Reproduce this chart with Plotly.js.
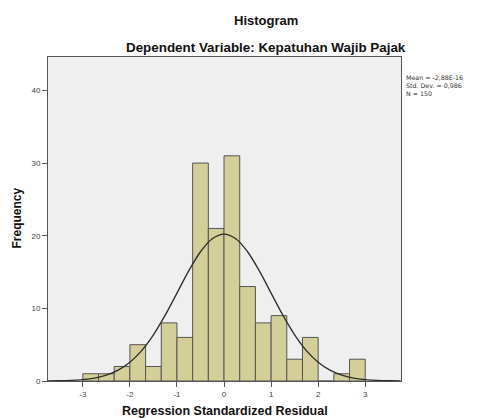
<!DOCTYPE html>
<html>
<head>
<meta charset="utf-8">
<script src="https://cdn.plot.ly/plotly-3.0.1.min.js"></script>
<style>html,body{margin:0;padding:0;background:#fff;}#chart{width:479px;height:418px;}</style>
</head>
<body>
<div id="chart"></div>
<script>
// Histogram bins (lower edges) and frequencies
var binWidth = 1 / 3;
var binLower = [-3, -8/3, -7/3, -2, -5/3, -4/3, -1, -2/3, -1/3, 0, 1/3, 2/3, 1, 4/3, 5/3, 2, 7/3, 8/3];
var frequencies = [1, 1, 2, 5, 2, 8, 6, 30, 21, 31, 13, 8, 9, 3, 6, 0, 1, 3];

// Normal curve
var curveX = [-3.75, -3.5, -3.25, -3, -2.75, -2.5, -2.25, -2, -1.75, -1.5, -1.25, -1, -0.75, -0.5, -0.25, 0, 0.25, 0.5, 0.75, 1, 1.25, 1.5, 1.75, 2, 2.25, 2.5, 2.75, 3, 3.25, 3.5, 3.75];
var curveY = [0.015, 0.037, 0.088, 0.2, 0.41, 0.81, 1.5, 2.59, 4.19, 6.36, 9.06, 12.1, 15.15, 17.79, 19.59, 20.23, 19.59, 17.79, 15.15, 12.1, 9.06, 6.36, 4.19, 2.59, 1.5, 0.81, 0.41, 0.2, 0.088, 0.037, 0.015];

var xTicks = [-3, -2, -1, 0, 1, 2, 3];
var yTicks = [0, 10, 20, 30, 40];
var statsLines = ["Mean = -2,88E-16", "Std. Dev. = 0,986", "N = 150"];
var titleText = "Histogram";
var subtitleText = "Dependent Variable: Kepatuhan Wajib Pajak";
var xTitle = "Regression Standardized Residual";
var yTitle = "Frequency";

var binCenters = binLower.map(function (v) { return v + binWidth / 2; });

var traces = [
  {
    type: "bar",
    x: binCenters,
    y: frequencies,
    width: binWidth,
    marker: { color: "#d4cf98", line: { color: "#555555", width: 1 } },
    hoverinfo: "x+y"
  },
  {
    type: "scatter",
    mode: "lines",
    x: curveX,
    y: curveY,
    line: { color: "#2b2b2b", width: 1.3, shape: "spline" },
    hoverinfo: "skip"
  }
];

var font = "'Liberation Sans', Arial, sans-serif";
var M = { l: 48, r: 78, t: 57, b: 37 };
var plotW = 479 - M.l - M.r, plotH = 418 - M.t - M.b;
function px(x) { return (x - M.l) / plotW; }
function py(y) { return (418 - M.b - y) / plotH; }

var annotations = [
  { text: "<b>" + titleText + "</b>", xref: "paper", yref: "paper", x: px(266), y: py(21), showarrow: false, xanchor: "center", yanchor: "middle", font: { family: font, size: 13, color: "#111" } },
  { text: "<b>" + subtitleText + "</b>", xref: "paper", yref: "paper", x: px(266), y: py(47), showarrow: false, xanchor: "center", yanchor: "middle", font: { family: font, size: 13.4, color: "#111" } },
  { text: "<b>" + xTitle + "</b>", xref: "paper", yref: "paper", x: px(225), y: py(411), showarrow: false, xanchor: "center", yanchor: "middle", font: { family: font, size: 12.5, color: "#111" } },
  { text: "<b>" + yTitle + "</b>", xref: "paper", yref: "paper", x: px(16.5), y: py(218), showarrow: false, textangle: -90, xanchor: "center", yanchor: "middle", font: { family: font, size: 12, color: "#111" } },
  { text: statsLines.join("<br>"), xref: "paper", yref: "paper", x: px(405), y: py(85.5), showarrow: false, xanchor: "left", yanchor: "middle", align: "left", borderpad: 0, font: { family: "'DejaVu Sans', sans-serif", size: 6.3, color: "#333" } }
];

var layout = {
  width: 479,
  height: 418,
  margin: M,
  paper_bgcolor: "#ffffff",
  plot_bgcolor: "#efefef",
  showlegend: false,
  bargap: 0,
  font: { family: font, color: "#444" },
  xaxis: {
    range: [-3.74, 3.76],
    tickvals: xTicks,
    ticktext: xTicks.map(String),
    ticks: "outside",
    ticklen: 5,
    tickcolor: "#555",
    tickfont: { size: 8, color: "#444" },
    showgrid: false,
    zeroline: false,
    showline: true,
    linecolor: "#555",
    linewidth: 1,
    mirror: true,
    title: { text: "" }
  },
  yaxis: {
    range: [0, 44.6],
    tickvals: yTicks,
    ticks: "outside",
    ticklen: 5,
    tickcolor: "#555",
    tickfont: { size: 8, color: "#444" },
    showgrid: false,
    zeroline: false,
    showline: true,
    linecolor: "#555",
    linewidth: 1,
    mirror: true,
    title: { text: "" }
  },
  annotations: annotations
};

Plotly.newPlot("chart", traces, layout, { displayModeBar: false, staticPlot: true });
</script>
</body>
</html>
